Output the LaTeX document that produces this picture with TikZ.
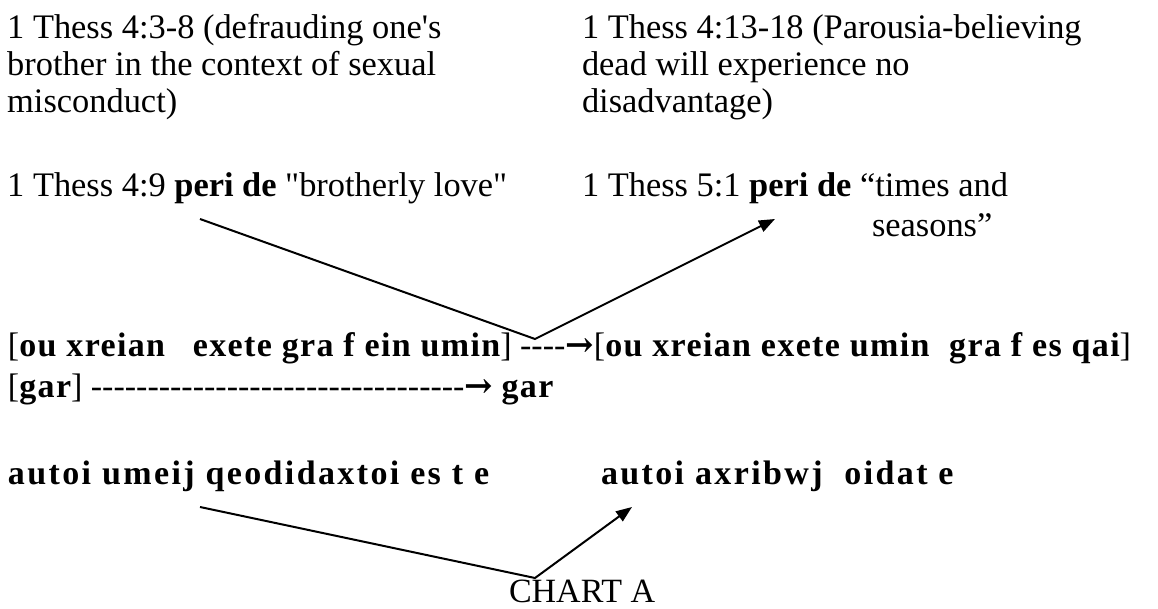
\documentclass[tikz,border=0pt]{standalone}
\usepackage{fontspec}
\setmainfont{Liberation Serif}[Ligatures=TeXOff]
\newfontfamily\gkfont{Liberation Serif}[LetterSpace=4,Ligatures=TeXOff]
\newfontfamily\gkwidefont{Liberation Serif}[LetterSpace=7,Ligatures=TeXOff]
\newfontfamily\arrfont{DejaVu Serif}
\newcommand{\gk}[1]{{\gkfont\bfseries #1}}
\newcommand{\gkw}[1]{{\gkwidefont\bfseries #1}}
\newcommand{\rarr}{{\arrfont\bfseries\symbol{"2192}}}
\newcommand{\mainsize}{\fontsize{17.2pt}{18.5pt}\selectfont}
\newcommand{\rowsize}{\fontsize{17pt}{20.5pt}\selectfont}
\usetikzlibrary{arrows.meta}

\tikzset{every picture/.style={line width=1pt}}
\tikzset{
  para/.style={anchor=north west,inner sep=0pt,align=left,font=\mainsize},
  txtline/.style={anchor=base west,inner sep=0pt,font=\mainsize},
  gkline/.style={anchor=base west,inner sep=0pt,font=\rowsize},
  vlink/.style={-{Triangle[length=8pt,width=6pt]}}
}

\begin{document}
\begin{tikzpicture}[x=0.5pt,y=0.5pt,yscale=-1,xscale=1]
\useasboundingbox (0,0) rectangle (1158,609);

% Text Node
\node (thessA) [para] at (6.2,13.3) {1 Thess 4:3-8 (defrauding one's\\brother in the context of sexual\\misconduct)};
% Text Node
\node (thessB) [para] at (581,13.3) {1 Thess 4:13-18 (Parousia-believing\\dead will experience no\\disadvantage)};
% Text Node
\node (periA) [txtline] at (6.2,197) {1 Thess 4:9 \textbf{peri de} "brotherly love"};
% Text Node
\node (periB) [txtline] at (581,197) {1 Thess 5:1 \textbf{peri de} “times and};
% Text Node
\node (seasons) [txtline] at (871,237) {seasons”};

% Text Node
\node (rowA) [gkline] at (7,357) {{[}\gk{ou xreian\ \ \kern4pt exete gra f ein umin}{]} ----\rarr{[}\gk{ou xreian exete umin\ \ gra f es qai}{]}};
% Text Node
\node (rowB) [gkline] at (7,398) {{[}\gk{gar}{]} ---------------------------------\rarr\ \gk{gar}};
% Text Node
\node (autoiA) [gkline] at (7,485) {\gkw{autoi umeij qeodidaxtoi es t e}};
% Text Node
\node (autoiB) [gkline] at (600,485) {\gkw{autoi axribwj\ \ oidat e}};
% Text Node
\node (chart) [gkline] at (508,603) {CHART A};

%Straight Lines
\coordinate (topS) at (200,219);
\coordinate (topV) at (535,339);
\coordinate (topE) at (775,219);
\draw [vlink] (topS) -- (topV) -- (topE);
%Straight Lines
\coordinate (lowS) at (200,507);
\coordinate (lowV) at (535,578);
\coordinate (lowE) at (632,507);
\draw [vlink] (lowS) -- (lowV) -- (lowE);
\end{tikzpicture}
\end{document}
